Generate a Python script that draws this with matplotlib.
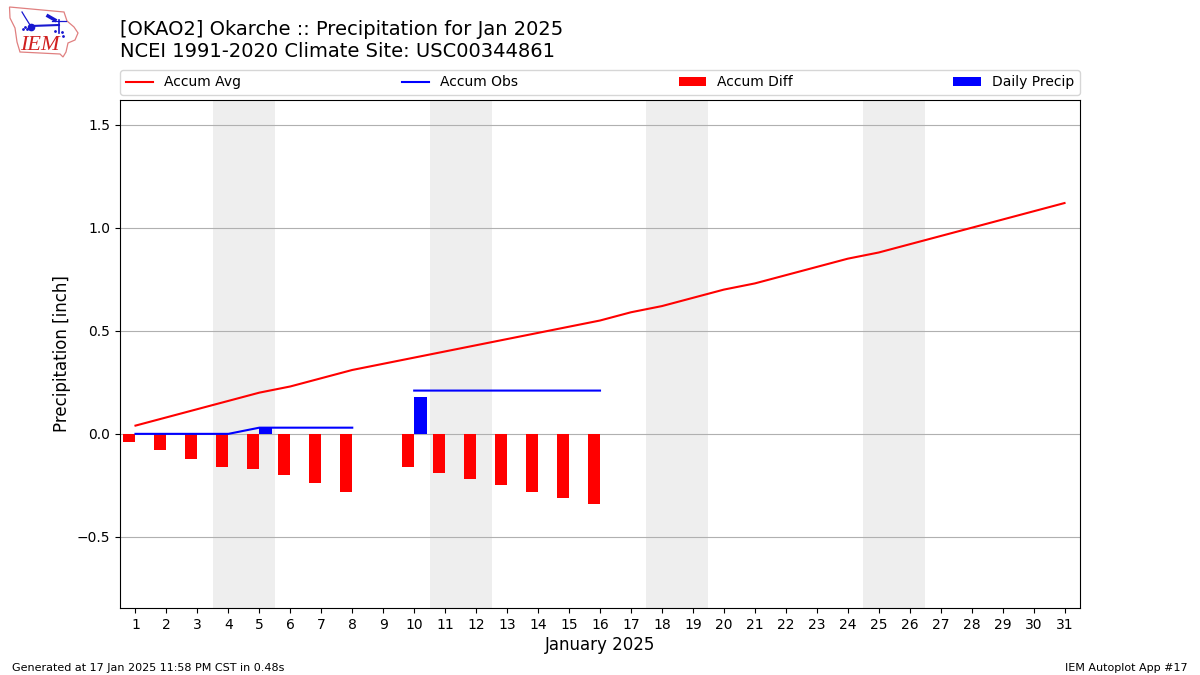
import matplotlib
matplotlib.use('Agg')
import matplotlib.pyplot as plt
import numpy as np

days = list(range(1, 32))
accum_avg = [0.04, 0.08, 0.12, 0.16, 0.20, 0.23, 0.27, 0.31, 0.34, 0.37, 0.40,
             0.43, 0.46, 0.49, 0.52, 0.55, 0.59, 0.62, 0.66, 0.70, 0.73, 0.77,
             0.81, 0.85, 0.88, 0.92, 0.96, 1.00, 1.04, 1.08, 1.12]
obs_days = [1, 2, 3, 4, 5, 6, 7, 8, 9, 10, 11, 12, 13, 14, 15, 16]
accum_obs = [0, 0, 0, 0, 0.03, 0.03, 0.03, 0.03, np.nan, 0.21, 0.21, 0.21, 0.21,
             0.21, 0.21, 0.21]
accum_diff = [-0.04, -0.08, -0.12, -0.16, -0.17, -0.20, -0.24, -0.28, np.nan,
              -0.16, -0.19, -0.22, -0.25, -0.28, -0.31, -0.34]
daily_precip = [0, 0, 0, 0, 0.03, 0, 0, 0, 0, 0.18, 0, 0, 0, 0, 0, 0]
weekends = [(3.5, 5.5), (10.5, 12.5), (17.5, 19.5), (24.5, 26.5)]
yticks = [-0.5, 0, 0.5, 1.0, 1.5]

# IEM logo outline, pixels
logo_outline = [(9.5, 7), (64, 12), (67, 21), (74, 27), (78, 33), (75, 40), (68, 43),
                (66, 52), (63, 57), (60, 54), (20, 52), (17, 42), (15, 28), (10, 18)]


def draw_logo(fig):
    ax = fig.add_axes([0, 1 - 60 / 675, 85 / 1200, 60 / 675])
    ax.set_xlim(0, 85)
    ax.set_ylim(60, 0)
    ax.axis('off')
    ax.add_patch(plt.Polygon(logo_outline, fill=False, ec='#e08080', lw=0.9))
    ax.plot([31, 59], [26, 25], color='#1818d0', lw=1.5)
    ax.plot([59, 59], [20, 33], color='#1818d0', lw=1.2)
    ax.plot([22, 25, 30], [12, 17, 25], color='#1818d0', lw=0.9)
    ax.plot([48, 55], [16, 20], color='#1818d0', lw=2.5)
    ax.plot([52, 66], [21, 21], color='#1818d0', lw=0.9)
    ax.plot([31], [26.5], 'o', color='#1818d0', ms=4.5)
    ax.plot([23, 25, 27, 55, 62, 63], [29, 27, 29, 31, 32, 36], '.', color='#1818d0', ms=2)
    ax.text(20, 45.5, 'IEM', color='#d02020', fontsize=16, family='Liberation Serif',
            style='italic', va='center', ha='left')


def main():
    fig = plt.figure(figsize=(12, 6.75), dpi=100)
    ax = fig.add_axes([120 / 1200, 1 - 608 / 675, 960 / 1200, 508 / 675])

    for start, end in weekends:
        ax.axvspan(start, end, color='#eeeeee', lw=0, zorder=0)

    ax.plot(days, accum_avg, color='red', label='Accum Avg', zorder=3)
    ax.plot(obs_days, accum_obs, color='blue', label='Accum Obs', zorder=3)
    ax.bar(obs_days, accum_diff, width=-0.4, align='edge', color='red',
           label='Accum Diff', zorder=2)
    ax.bar(obs_days, daily_precip, width=0.4, align='edge', color='blue',
           label='Daily Precip', zorder=2)

    ax.set_xlim(0.5, 31.5)
    ax.set_ylim(-0.845, 1.62)
    ax.set_xticks(days)
    ax.set_yticks(yticks)
    ax.grid(axis='y', zorder=1)
    ax.set_axisbelow(True)
    ax.set_xlabel('January 2025', fontsize=12, labelpad=3)
    ax.set_ylabel('Precipitation [inch]', fontsize=12)

    ax.legend(loc='lower left', bbox_to_anchor=(0, 1 + 5 / 508, 1, 0.05), ncol=4,
              mode='expand', borderaxespad=0, fontsize=10)

    fig.text(120 / 1200, 1 - 57 / 675,
             '[OKAO2] Okarche :: Precipitation for Jan 2025\n'
             'NCEI 1991-2020 Climate Site: USC00344861',
             fontsize=14, va='baseline', ha='left')
    fig.text(0.01, 4 / 675, 'Generated at 17 Jan 2025 11:58 PM CST in 0.48s', fontsize=8)
    fig.text(0.99, 4 / 675, 'IEM Autoplot App #17', fontsize=8, ha='right')

    draw_logo(fig)
    fig.savefig('out.png', dpi=100)


if __name__ == "__main__":
    main()
